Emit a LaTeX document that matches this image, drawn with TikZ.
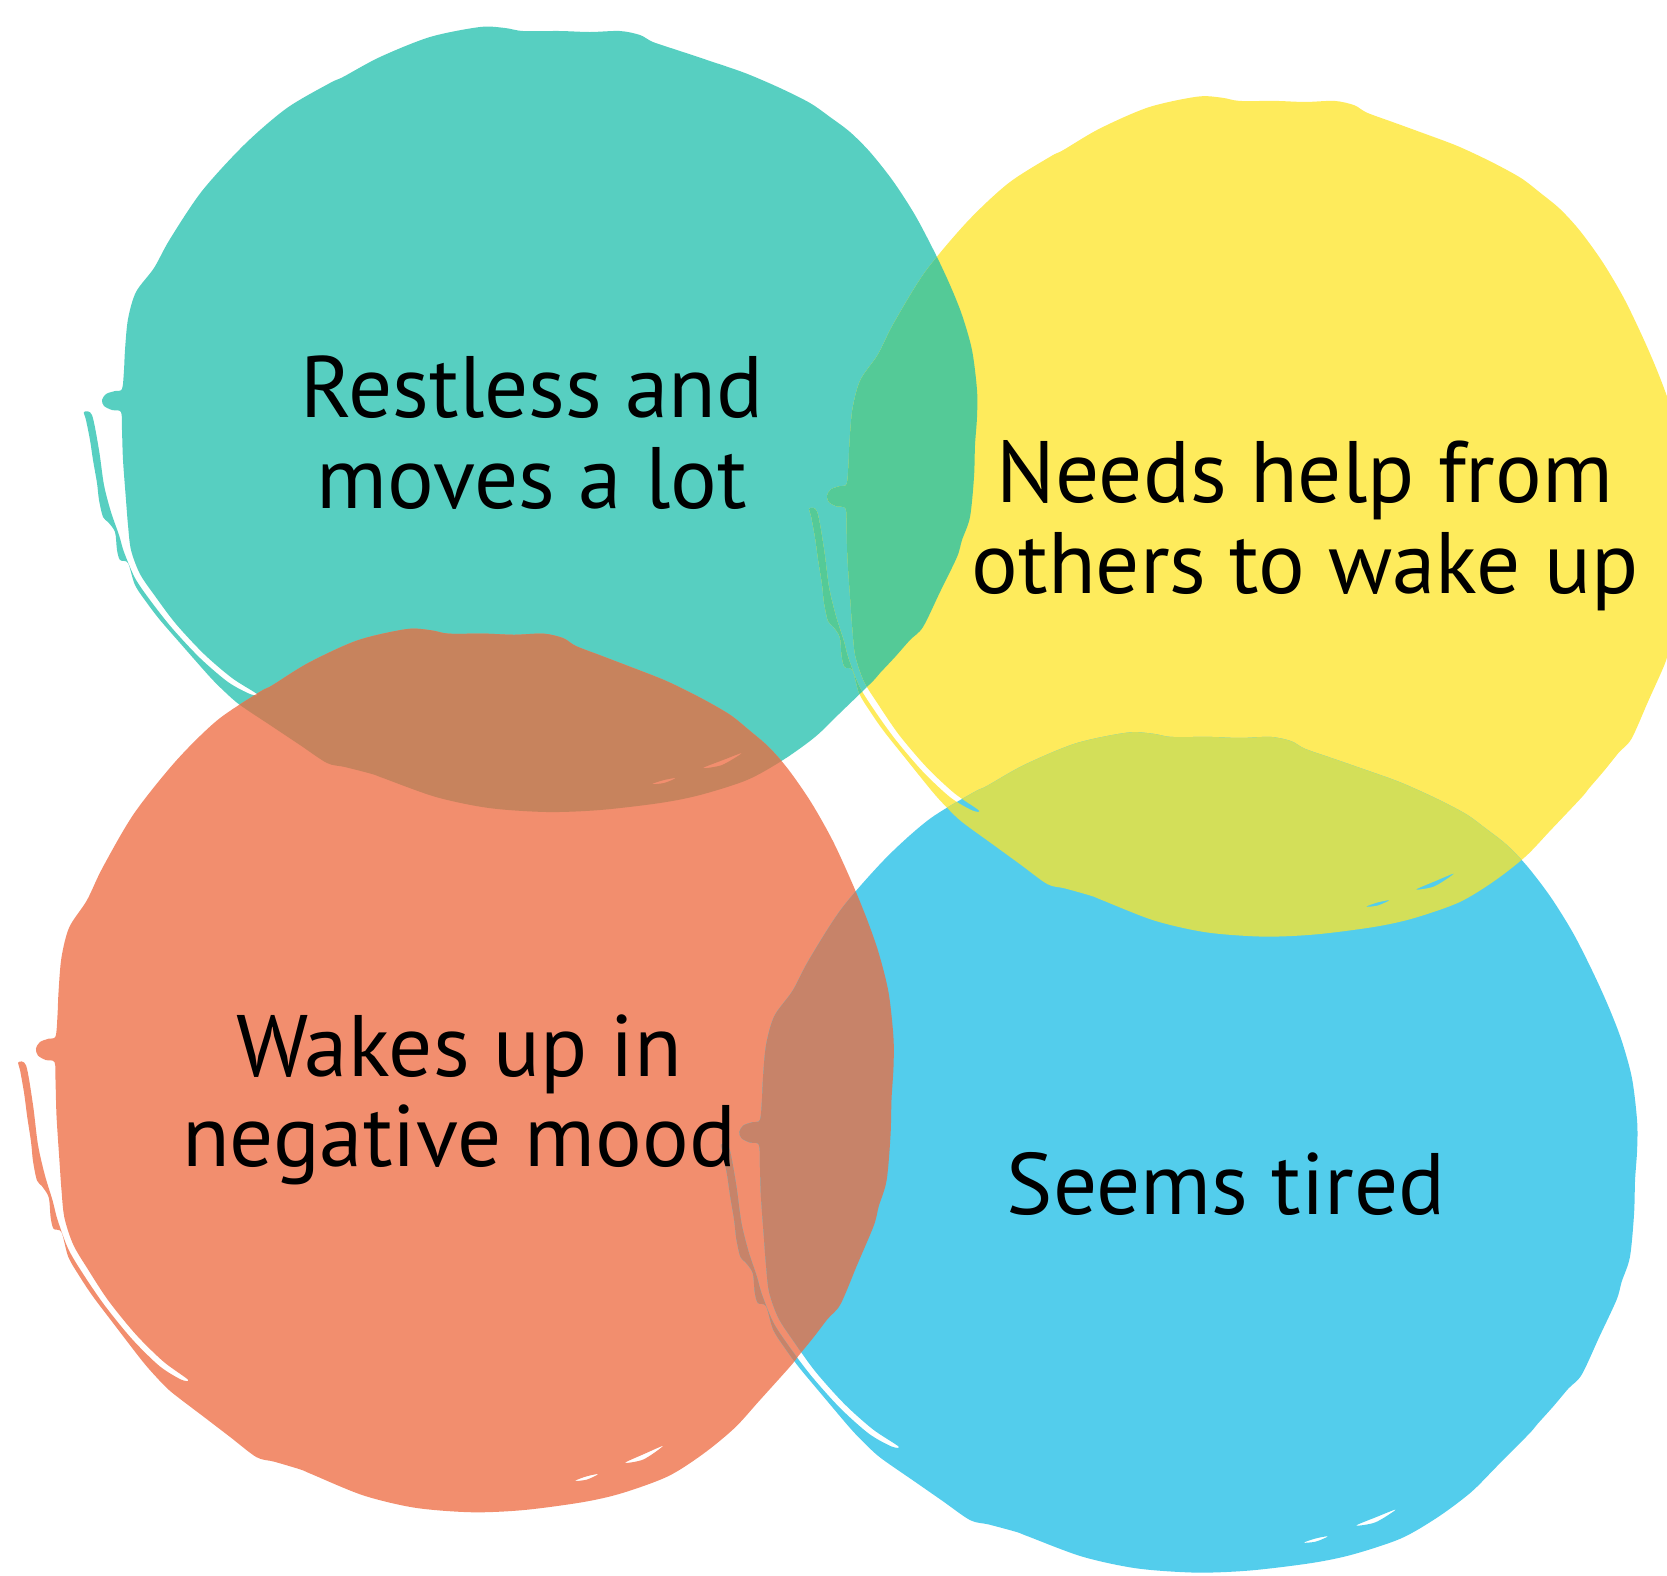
\documentclass[tikz,border=0pt]{standalone}
\usepackage{fontspec}
\setmainfont{PT Sans}
\definecolor{tealc}{HTML}{57CFC1}
\definecolor{yellowc}{HTML}{FEEB5C}
\definecolor{orangec}{HTML}{F28E6E}
\definecolor{bluec}{HTML}{53CDEC}
\definecolor{tealyellow}{HTML}{54CA97}
\definecolor{tealorange}{HTML}{C7835D}
\definecolor{yellowblue}{HTML}{D3DF59}
\definecolor{orangeblue}{HTML}{C78369}
\newcommand\blob{plot[smooth cycle] coordinates {(-425,68) (-422,99) (-414,126) (-396,150) (-380,179) (-348,227) (-305,274) (-263,310) (-220,335) (-207,341) (-170,361) (-120,381) (-70,391) (-45,390) (-27,387) (10,387) (40,386) (70,387) (90,383) (103,376) (130,367) (157,358) (195,345) (230,330) (260,315) (280,301) (300,286) (320,266) (343,237) (365,203) (385,165) (400,133) (412,103) (422,68) (427,28) (427,1) (425,-27) (424,-59) (420,-99) (412,-122) (407,-139) (390,-174) (373,-209) (360,-222) (345,-239) (330,-255) (322,-264) (290,-295) (265,-319) (233,-342) (197,-362) (150,-377) (110,-385) (50,-392) (-3,-394) (-61,-390) (-114,-379) (-167,-360) (-178,-356) (-205,-349) (-223,-345) (-250,-327) (-277,-309) (-310,-287) (-325,-274) (-340,-259) (-370,-225) (-390,-202) (-403,-185) (-415,-167) (-422,-145) (-430,-142) (-433,-132) (-435,-114) (-442,-104) (-447,-99) (-451,-82) (-453,-65) (-457,-42) (-460,-22) (-464,-2) (-466,6) (-458,3) (-451,-32) (-446,-67) (-439,-94) (-431,-117) (-426,-134) (-415,-160) (-400,-182) (-378,-210) (-350,-240) (-322,-264) (-300,-276) (-293,-276) (-318,-260) (-346,-236) (-374,-206) (-395,-178) (-410,-156) (-419,-132) (-422,-107) (-424,-82) (-427,-42) (-428,-12) (-429,6) (-438,8) (-446,12) (-448,18) (-444,24) (-435,27) (-428,29) (-426,48)}
	plot[smooth cycle] coordinates {(153,-350) (172,-347) (192,-335) (173,-342)}
	plot[smooth cycle] coordinates {(102,-366) (114,-365) (126,-360) (114,-362)}}

\begin{document}
\begin{tikzpicture}[x=0.01cm,y=0.01cm,
	tealpos/.style={shift={(550,-418)}},
	yellowpos/.style={shift={(1266,-515)},xscale=.98,yscale=1.07},
	orangepos/.style={shift={(475,-1069)},xscale=.98,yscale=1.125},
	bluepos/.style={shift={(1199,-1151)},xscale=1.026,yscale=1.07},
	every node/.style={font=\fontsize{24.8pt}{25.6pt}\selectfont,align=center,anchor=base,inner sep=0pt}]
	\useasboundingbox (0,0) rectangle (1667,-1575);
	\fill[tealc,tealpos] \blob;
	\fill[yellowc,yellowpos] \blob;
	\fill[orangec,orangepos] \blob;
	\fill[bluec,bluepos] \blob;
	\begin{scope}
		\clip[tealpos] \blob;
		\fill[tealyellow,yellowpos] \blob;
		\fill[tealorange,orangepos] \blob;
	\end{scope}
	\begin{scope}
		\clip[bluepos] \blob;
		\fill[yellowblue,yellowpos] \blob;
		\fill[orangeblue,orangepos] \blob;
	\end{scope}
	\node (restless) at (532,-508) {Restless and\\moves a lot};
	\node (needshelp) at (1305,-593) {Needs help from\\others to wake up};
	\node (wakes) at (459,-1166) {Wakes up in\\negative mood};
	\node (tired) at (1226,-1214) {Seems tired};
\end{tikzpicture}
\end{document}
